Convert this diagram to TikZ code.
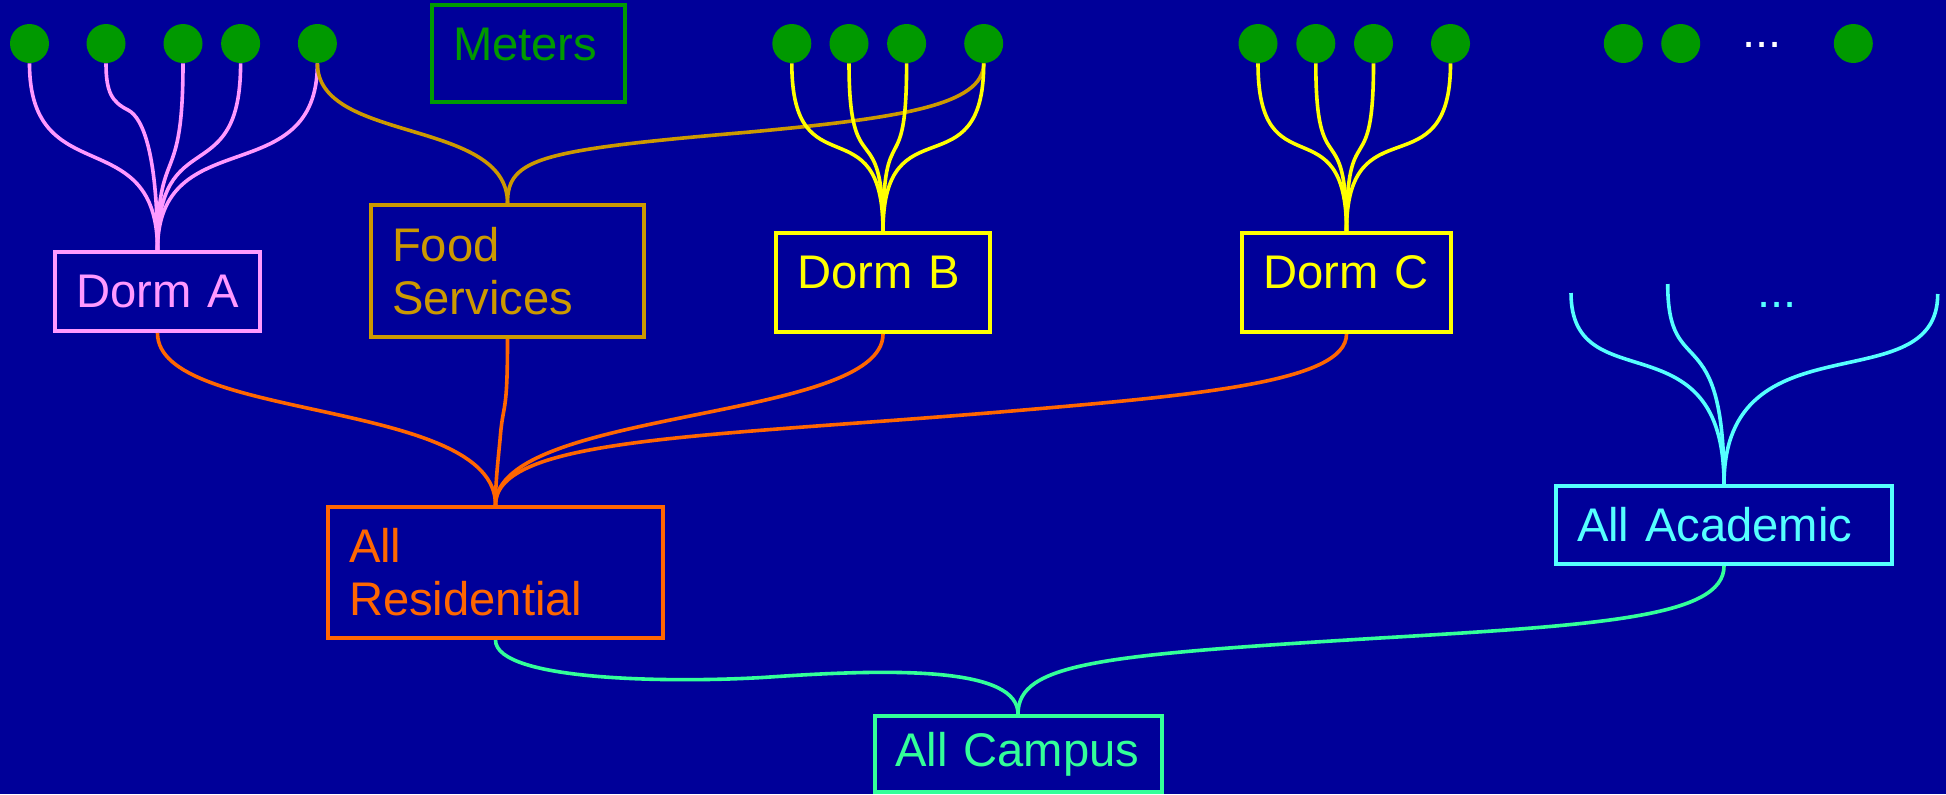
\documentclass[tikz,border=0pt]{standalone}
\usepackage{fontspec}
\setmainfont{Liberation Sans}
\definecolor{bgc}{HTML}{000099}
\definecolor{meterc}{HTML}{009900}
\definecolor{pinkc}{HTML}{FF99FF}
\definecolor{goldc}{HTML}{CC9900}
\definecolor{yelc}{HTML}{FFFF00}
\definecolor{orngc}{HTML}{FF6600}
\definecolor{cyanc}{HTML}{55FFFF}
\definecolor{campc}{HTML}{33FF99}
\tikzset{
  bigfont/.style={font=\fontsize{23.6pt}{26.5pt}\selectfont},
  boxnode/.style={draw=#1, text=#1, rectangle, line width=2pt, inner xsep=10.5pt, inner ysep=0pt, align=left, bigfont},
  meter/.style={circle, fill=meterc, minimum size=19.5pt, inner sep=0pt},
  edge/.style={draw=#1, line width=1.8pt},
}
\begin{document}
\begin{tikzpicture}[x=0.5pt,y=-0.5pt]
\useasboundingbox (0,0) rectangle (1946,794);
\fill[bgc] (0,0) rectangle (1946,794);

% meters
\foreach \nm/\xx in {a1/29.5,a2/106,a3/183,a4/240.6,a5/317.4,
                     b1/791.8,b2/849,b3/906.6,b4/983.7,
                     c1/1258,c2/1315.8,c3/1373.5,c4/1450.5,
                     d1/1623.3,d2/1680.7,d3/1853.3}
  \node[meter] (\nm) at (\xx,43.5) {};
\node[bigfont, text=white, anchor=base] (dots1) at (1762,47.5) {...};

% boxes
\node[boxnode=meterc, minimum width=96.5pt, minimum height=48.5pt, text width=75.5pt, text depth=9pt] (meters) at (528.5,53.5) {Meters};
\node[boxnode=pinkc, minimum width=102.5pt, minimum height=39.5pt, text width=81.5pt] (dA) at (157.5,291.5) {Dorm A};
\node[boxnode=goldc, minimum width=136.5pt, minimum height=66pt, text width=115.5pt] (food) at (507.5,271) {Food\\Services};
\node[boxnode=yelc, minimum width=106.75pt, minimum height=49.5pt, text width=85.75pt, text depth=10.5pt] (dB) at (883,282.5) {Dorm B};
\node[boxnode=yelc, minimum width=104.5pt, minimum height=49.5pt, text width=83.5pt, text depth=10.5pt] (dC) at (1346.5,282.5) {Dorm C};
\node[boxnode=orngc, minimum width=167.5pt, minimum height=65.5pt, text width=146.5pt] (AR) at (495.5,572.5) {All\\Residential};
\node[boxnode=cyanc, minimum width=168pt, minimum height=39pt, text width=147pt] (AAc) at (1724,525) {All Academic};
\node[boxnode=campc, minimum width=143.5pt, minimum height=38pt, text width=122.5pt] (AC) at (1018,754) {All Campus};

% free ends of the academic branch
\coordinate (e1) at (1571,293);
\coordinate (e2) at (1667.7,284);
\coordinate (e3) at (1937.7,294);
\node[bigfont, text=cyanc, anchor=base] (dots2) at (1777,307.5) {...};

% Dorm A
\draw[edge=pinkc] (a1.south) .. controls +(0,130) and +(0,-130) .. (dA.north);
\draw[edge=pinkc] (a2.south) .. controls +(0,29) and (112,102) .. (128,110) .. controls (144,118) and +(0,-92) .. (dA.north);
\draw[edge=pinkc] (a3.south) .. controls +(0,130) and +(0,-110) .. (dA.north);
\draw[edge=pinkc] (a4.south) .. controls +(0,130) and +(0,-130) .. (dA.north);
\draw[edge=pinkc] (a5.south) .. controls +(0,130) and +(0,-130) .. (dA.north);

% Food services
\draw[edge=goldc] (a5.south) .. controls +(0,80) and +(0,-85) .. (food.north);
\draw[edge=goldc] (b4.south) .. controls +(0,42) and (900,118) .. (750,132) .. controls (540,150) and +(0,-45) .. (food.north);

% Dorm B
\draw[edge=yelc] (b1.south) .. controls +(0,130) and +(0,-130) .. (dB.north);
\draw[edge=yelc] (b2.south) .. controls +(0,125) and +(0,-120) .. (dB.north);
\draw[edge=yelc] (b3.south) .. controls +(0,125) and +(0,-120) .. (dB.north);
\draw[edge=yelc] (b4.south) .. controls +(0,130) and +(0,-130) .. (dB.north);

% Dorm C
\draw[edge=yelc] (c1.south) .. controls +(0,130) and +(0,-130) .. (dC.north);
\draw[edge=yelc] (c2.south) .. controls +(0,125) and +(0,-120) .. (dC.north);
\draw[edge=yelc] (c3.south) .. controls +(0,125) and +(0,-120) .. (dC.north);
\draw[edge=yelc] (c4.south) .. controls +(0,130) and +(0,-130) .. (dC.north);

% All residential
\draw[edge=orngc] (dA.south) .. controls +(0,89) and +(0,-107) .. (AR.north);
\draw[edge=orngc] (food.south) .. controls +(0,80) and (503,400) .. (500,440) .. controls (497,470) and +(0,-20) .. (AR.north);
\draw[edge=orngc] (dB.south) .. controls +(0,88) and +(0,-97) .. (AR.north);
\draw[edge=orngc] (dC.south) .. controls +(0,48) and (1200,395) .. (1000,412) .. controls (700,437) and +(0,-67) .. (AR.north);

% All academic
\draw[edge=cyanc] (e1) .. controls +(0,110) and +(0,-170) .. (AAc.north);
\draw[edge=cyanc] (e2) .. controls +(0,100) and +(0,-170) .. (AAc.north);
\draw[edge=cyanc] (e3) .. controls +(0,110) and +(0,-170) .. (AAc.north);

% All campus
\draw[edge=campc] (AR.south) .. controls +(0,42) and (680,683) .. (770,677) .. controls (900,668) and +(0,-46) .. (AC.north);
\draw[edge=campc] (AAc.south) .. controls +(0,51) and (1600,625) .. (1380,638) .. controls (1100,655) and +(0,-51) .. (AC.north);
\end{tikzpicture}
\end{document}
